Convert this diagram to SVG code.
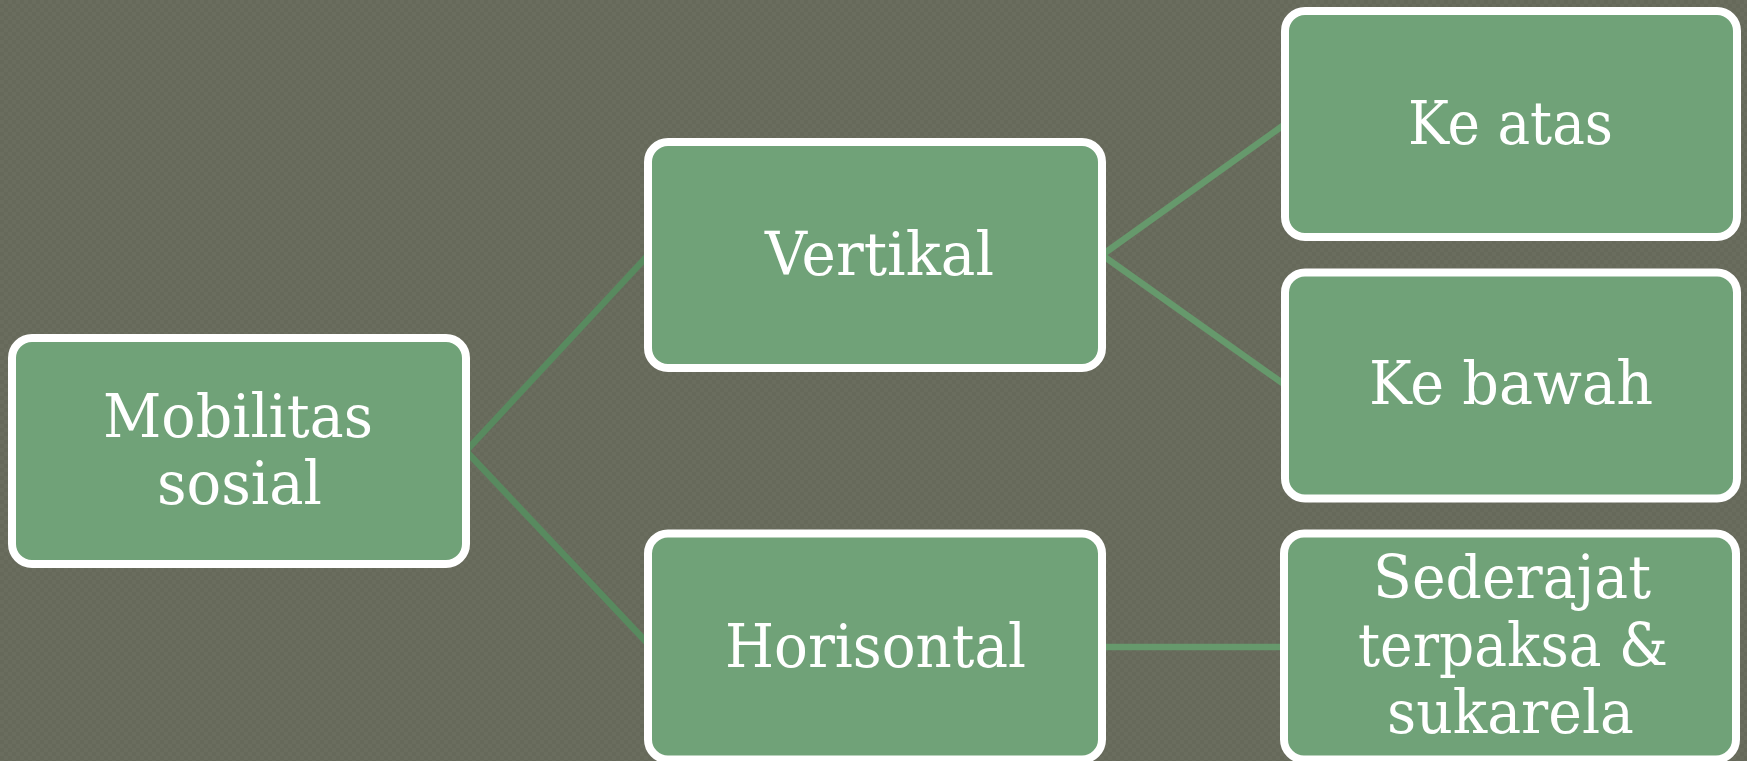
<svg xmlns="http://www.w3.org/2000/svg" width="1747" height="761" viewBox="0 0 1747 761">
  <defs>
    <pattern id="bgTex" width="8" height="8" patternUnits="userSpaceOnUse">
      <rect width="8" height="8" fill="#66695a"/>
      <rect width="4" height="4" fill="#6a6d5e"/>
      <rect x="4" y="4" width="4" height="4" fill="#6a6d5e"/>
    </pattern>
    <style>
      .box { fill: #70a278; stroke: #ffffff; stroke-width: 8; }
      .lbl { font-family: "DejaVu Serif", "Liberation Serif", serif; font-size: 59px; fill: #ffffff; }
      .connL { stroke: #588a5f; stroke-width: 6.5; fill: none; }
      .connR { stroke: #66996c; stroke-width: 6.5; fill: none; }
    </style>
  </defs>

  <rect width="1747" height="761" fill="url(#bgTex)"/>

  <g id="connectors">
    <line class="connL" x1="466" y1="451" x2="652" y2="251"/>
    <line class="connL" x1="466" y1="451" x2="652" y2="648"/>
    <line class="connR" x1="1102" y1="255" x2="1288" y2="122"/>
    <line class="connR" x1="1102" y1="255" x2="1288" y2="387"/>
    <line class="connR" x1="1102" y1="647" x2="1288" y2="647"/>
  </g>

  <g id="node-mobilitas">
    <rect class="box" x="12" y="338" width="454" height="226" rx="20"/>
    <text class="lbl" x="103" y="437" textLength="270" lengthAdjust="spacingAndGlyphs">Mobilitas</text>
    <text class="lbl" x="157" y="504" textLength="165" lengthAdjust="spacingAndGlyphs">sosial</text>
  </g>

  <g id="node-vertikal">
    <rect class="box" x="648" y="142" width="454" height="226" rx="20"/>
    <text class="lbl" x="765" y="275" textLength="229" lengthAdjust="spacingAndGlyphs">Vertikal</text>
  </g>

  <g id="node-horisontal">
    <rect class="box" x="648" y="533.5" width="454" height="226" rx="20"/>
    <text class="lbl" x="725" y="667" textLength="301" lengthAdjust="spacingAndGlyphs">Horisontal</text>
  </g>

  <g id="node-keatas">
    <rect class="box" x="1285" y="11" width="452" height="226" rx="20"/>
    <text class="lbl" x="1408" y="144" textLength="205" lengthAdjust="spacingAndGlyphs">Ke atas</text>
  </g>

  <g id="node-kebawah">
    <rect class="box" x="1285" y="272.5" width="452" height="226" rx="20"/>
    <text class="lbl" x="1369" y="404" textLength="284" lengthAdjust="spacingAndGlyphs">Ke bawah</text>
  </g>

  <g id="node-sederajat">
    <rect class="box" x="1284" y="533.5" width="452" height="226" rx="20"/>
    <text class="lbl" x="1373" y="598" textLength="278" lengthAdjust="spacingAndGlyphs">Sederajat</text>
    <text class="lbl" x="1358" y="665.5" textLength="310" lengthAdjust="spacingAndGlyphs">terpaksa &amp;</text>
    <text class="lbl" x="1387" y="733" textLength="247" lengthAdjust="spacingAndGlyphs">sukarela</text>
  </g>
</svg>
